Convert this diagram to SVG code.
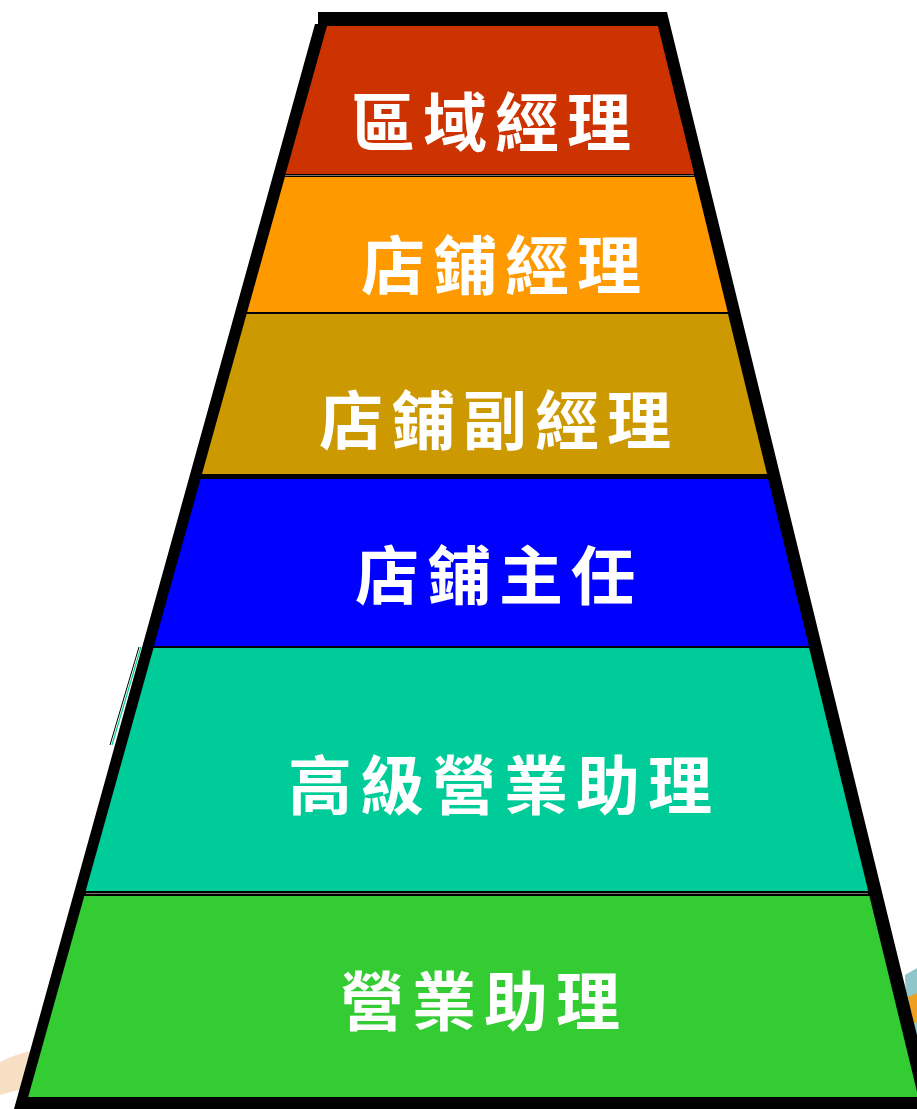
<svg xmlns="http://www.w3.org/2000/svg" width="917" height="1109" viewBox="0 0 917 1109">
<style>
.lbl{font-family:"Noto Sans CJK TC","Noto Sans CJK SC",sans-serif;font-size:64px;font-weight:600;fill:#ffffff;text-anchor:middle;dominant-baseline:central;letter-spacing:8px}
.sep{stroke:#777777;stroke-width:1.2}
</style>
<rect width="917" height="1109" fill="#ffffff"/>
<g id="background-decor">
<path d="M0,1062 C20,1052 40,1048 60,1046 L52,1082 C35,1085 18,1090 0,1095 Z" fill="#f6d9b8" opacity="0.85"/>
<path d="M905,975 L917,968 L917,1050 L908,1052 Z" fill="#8ec6cc"/>
<path d="M908,997 L917,993 L917,1022 L912,1024 Z" fill="#f0a020"/>
</g>
<g id="frame">
<polygon points="318,12 667,12 935,1109 14,1109 315,24 318,24" fill="#000000"/>
<path d="M141,647 L112,745" stroke="#00cc99" stroke-width="1.2" fill="none"/>
<path d="M139,647 L110,745" stroke="#000000" stroke-width="1" fill="none"/>
</g>
<g id="connectors"></g>
<g id="band-regional-manager">
<polygon points="327,26 658,26 694.2,174 285.6,174" fill="#cc3300"/>
<line class="sep" x1="285" y1="175.5" x2="694" y2="175.5"/>
<text class="lbl" x="495" y="118">區域經理</text>
</g>
<g id="band-store-manager">
<polygon points="284.9,177 694.7,177 727.7,312 247.2,312" fill="#ff9900"/>
<text class="lbl" x="505" y="261">店鋪經理</text>
</g>
<g id="band-assistant-store-manager">
<polygon points="246.6,314 728,314 767,474 202,474" fill="#cc9900"/>
<text class="lbl" x="499" y="416">店鋪副經理</text>
</g>
<g id="band-store-supervisor">
<polygon points="200.6,479 768.1,479 808.9,646 153.9,646" fill="#0000ff"/>
<text class="lbl" x="499" y="571">店鋪主任</text>
</g>
<g id="band-senior-sales-assistant">
<polygon points="153.5,648 809.1,648 868.2,891 85.7,891" fill="#00cc99"/>
<line class="sep" x1="86" y1="893.5" x2="868" y2="893.5"/>
<text class="lbl" x="504" y="781">高級營業助理</text>
</g>
<g id="band-sales-assistant">
<polygon points="84.3,896 869.4,896 918.3,1097 28.2,1097" fill="#33cc33"/>
<text class="lbl" x="484" y="997">營業助理</text>
</g>
</svg>
